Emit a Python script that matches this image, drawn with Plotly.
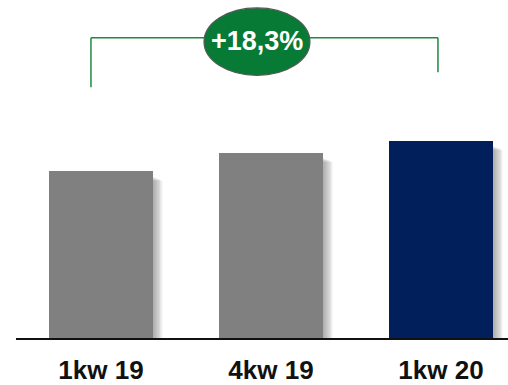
import plotly.graph_objects as go

# Quarterly values (index units) and bar colours
quarters = ["1kw 19", "4kw 19", "1kw 20"]
values = [170, 189, 201]
bar_colors = ["#808080", "#808080", "#001F5B"]
growth_label = "+18,3%"

BAR_W = 0.612
fig = go.Figure()

# soft drop shadow on the right side of each bar: stacked, shifted translucent copies
n_shadow = 11
for k in range(1, n_shadow + 1):
    fig.add_trace(go.Bar(
        x=quarters, y=[v - 5 - k * 0.4 for v in values],
        width=BAR_W, offset=-BAR_W / 2 + k * 0.0055,
        marker=dict(color="rgba(0,0,0,0.032)", line=dict(width=0)),
        hoverinfo="skip", showlegend=False,
    ))

fig.add_trace(go.Bar(
    x=quarters, y=values, width=BAR_W, offset=-BAR_W / 2,
    marker=dict(color=bar_colors, line=dict(width=0)),
    showlegend=False,
))

green = "#1f8a3d"
shapes = [
    # baseline
    dict(type="line", xref="x", yref="y", x0=-0.5, x1=2.5, y0=0, y1=0,
         line=dict(color="#111111", width=4)),
    # growth bracket from first to last quarter
    dict(type="line", xref="x", yref="y", x0=-0.059, x1=-0.059, y0=255, y1=305,
         line=dict(color=green, width=1.5)),
    dict(type="line", xref="x", yref="y", x0=-0.059, x1=1.982, y0=305, y1=305,
         line=dict(color=green, width=1.5)),
    dict(type="line", xref="x", yref="y", x0=1.982, x1=1.982, y0=270, y1=305,
         line=dict(color=green, width=1.5)),
    # growth badge
    dict(type="circle", xref="x", yref="y", x0=0.606, x1=1.229, y0=267, y1=335,
         fillcolor="#077a35", line=dict(color="#505a52", width=1.2)),
]

fig.update_layout(
    width=508, height=385,
    margin=dict(l=0, r=0, t=0, b=42),
    paper_bgcolor="white", plot_bgcolor="white",
    barmode="overlay", bargap=0,
    shapes=shapes,
    annotations=[dict(
        x=0.918, y=302, xref="x", yref="y", text="<b>" + growth_label + "</b>",
        showarrow=False, font=dict(family="Arial, Liberation Sans", size=27, color="white"),
    )],
    xaxis=dict(range=[-0.594, 2.394], showgrid=False, zeroline=False, showline=False,
               ticks="", tickfont=dict(family="Arial, Liberation Sans", size=26, color="#111111"),
               tickprefix="<b>", ticksuffix="</b>", ticklabelstandoff=12),
    yaxis=dict(range=[0, 343], visible=False),
)

fig.write_html("out.html")
